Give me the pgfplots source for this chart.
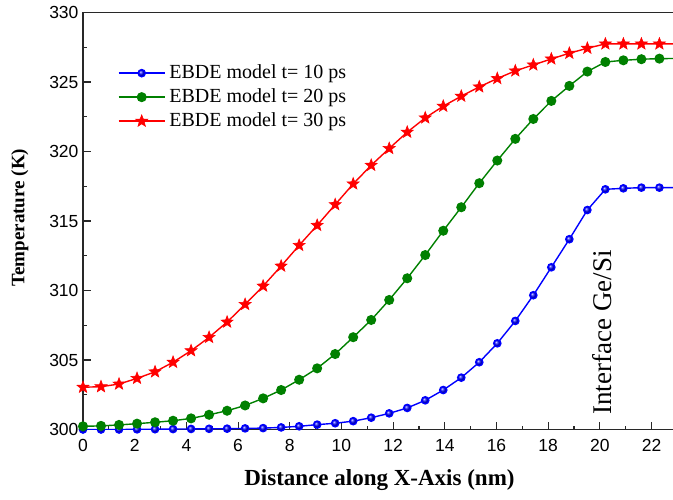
\documentclass[border=0pt]{standalone}
\usepackage{fontspec}
\setmainfont{Liberation Serif}
\setsansfont{Liberation Sans}
\usepackage{pgfplots}
\pgfplotsset{compat=1.18}
\usepackage{pgfplotstable}
\definecolor{dgreen}{RGB}{0,128,0}
\definecolor{axgray}{RGB}{40,40,40}

\pgfdeclareplotmark{fstar}{%
  \pgfpathmoveto{\pgfpointpolar{90}{\pgfplotmarksize}}%
  \pgfpathlineto{\pgfpointpolar{126}{0.42\pgfplotmarksize}}%
  \pgfpathlineto{\pgfpointpolar{162}{\pgfplotmarksize}}%
  \pgfpathlineto{\pgfpointpolar{198}{0.42\pgfplotmarksize}}%
  \pgfpathlineto{\pgfpointpolar{234}{\pgfplotmarksize}}%
  \pgfpathlineto{\pgfpointpolar{270}{0.42\pgfplotmarksize}}%
  \pgfpathlineto{\pgfpointpolar{306}{\pgfplotmarksize}}%
  \pgfpathlineto{\pgfpointpolar{342}{0.42\pgfplotmarksize}}%
  \pgfpathlineto{\pgfpointpolar{18}{\pgfplotmarksize}}%
  \pgfpathlineto{\pgfpointpolar{54}{0.42\pgfplotmarksize}}%
  \pgfpathclose
  \pgfusepathqfillstroke
}

\pgfplotstableread{
x y
0 300.00
0.697 300.00
1.394 300.00
2.091 300.01
2.788 300.02
3.485 300.03
4.182 300.04
4.879 300.05
5.576 300.06
6.273 300.08
6.970 300.10
7.667 300.15
8.364 300.23
9.061 300.35
9.758 300.45
10.455 300.60
11.152 300.85
11.849 301.16
12.546 301.55
13.243 302.10
13.940 302.84
14.637 303.73
15.334 304.84
16.031 306.20
16.728 307.81
17.425 309.66
18.122 311.67
18.819 313.69
19.516 315.79
20.213 317.28
20.910 317.35
21.607 317.40
22.304 317.40
23.2 317.40
}\bluetab

\pgfplotstableread{
x y
0 300.23
0.697 300.26
1.394 300.33
2.091 300.42
2.788 300.52
3.485 300.63
4.182 300.80
4.879 301.06
5.576 301.35
6.273 301.73
6.970 302.24
7.667 302.84
8.364 303.58
9.061 304.40
9.758 305.43
10.455 306.64
11.152 307.88
11.849 309.32
12.546 310.88
13.243 312.55
13.940 314.30
14.637 315.99
15.334 317.72
16.031 319.35
16.728 320.91
17.425 322.34
18.122 323.64
18.819 324.72
19.516 325.75
20.213 326.44
20.910 326.56
21.607 326.64
22.304 326.68
23.2 326.70
}\greentab

\pgfplotstableread{
x y
0 303.04
0.697 303.08
1.394 303.27
2.091 303.68
2.788 304.15
3.485 304.84
4.182 305.67
4.879 306.63
5.576 307.73
6.273 309.00
6.970 310.32
7.667 311.76
8.364 313.25
9.061 314.69
9.758 316.18
10.455 317.67
11.152 319.01
11.849 320.22
12.546 321.39
13.243 322.42
13.940 323.26
14.637 323.98
15.334 324.65
16.031 325.25
16.728 325.80
17.425 326.23
18.122 326.66
18.819 327.07
19.516 327.43
20.213 327.74
20.910 327.74
21.607 327.74
22.304 327.74
23.2 327.74
}\redtab

\begin{document}
\begin{tikzpicture}
\begin{axis}[
  at={(0,0)}, anchor=south west,
  scale only axis, width=590pt, height=417pt,
  xmin=0, xmax=22.83, ymin=300, ymax=330,
  axis lines*=left,
  axis line style={line width=1.2pt, axgray, -},
  xtick={0,2,...,22}, ytick={300,305,...,330},
  minor x tick num=1, minor y tick num=1,
  tick align=inside, major tick length=8pt, minor tick length=4pt,
  tick style={line width=1.1pt, axgray},
  /pgf/number format/assume math mode=true,
  tick label style={font=\sffamily\fontsize{17.5}{20}\selectfont},
  xticklabel style={yshift=-6pt},
  yticklabel style={xshift=-1pt},
  xlabel={Distance along X-Axis (nm)},
  ylabel={Temperature (K)},
  xlabel style={font=\bfseries\fontsize{23}{26}\selectfont, at={(axis description cs:0.5025,-0.121)}, anchor=center},
  ylabel style={font=\bfseries\fontsize{19}{21}\selectfont, at={(axis description cs:-0.107,0.508)}, anchor=center},
  legend cell align=left,
  legend style={at={(axis description cs:0.059,0.879)}, anchor=north west, draw=none, fill=none, inner sep=0pt,
    font=\fontsize{20}{24}\selectfont,
    nodes={inner sep=1pt, text height=14pt, text depth=4pt},
    row sep=4pt, column sep=3pt},
  legend image code/.code={\draw[#1, mark indices={2}] plot coordinates {(0pt,0pt)(23pt,0pt)(46pt,0pt)};},
]
\addplot[blue, line width=1.4pt, mark=ball, mark size=3.6pt, mark options={ball color=blue}, mark indices={1,...,33}] table[x=x,y=y] {\bluetab};
\addlegendentry{EBDE model t= 10 ps}
\addplot[dgreen, line width=1.4pt, mark=*, mark size=4.3pt, mark options={fill=dgreen, draw=dgreen}, mark indices={1,...,33}] table[x=x,y=y] {\greentab};
\addlegendentry{EBDE model t= 20 ps}
\addplot[red, line width=1.4pt, mark=fstar, mark size=6.3pt, mark options={fill=red, draw=red, line width=0.6pt}, mark indices={1,...,33}] table[x=x,y=y] {\redtab};
\addlegendentry{EBDE model t= 30 ps}
\draw[line width=1.2pt, axgray] (rel axis cs:0,1) -- (rel axis cs:1,1);
\node[rotate=90, font=\fontsize{27}{30}\selectfont] at (axis cs:20.1,306.98) {Interface Ge/Si};
\end{axis}
\pgfresetboundingbox
\useasboundingbox (-83pt,-69.5pt) rectangle (590pt,429.5pt);
\end{tikzpicture}
\end{document}
